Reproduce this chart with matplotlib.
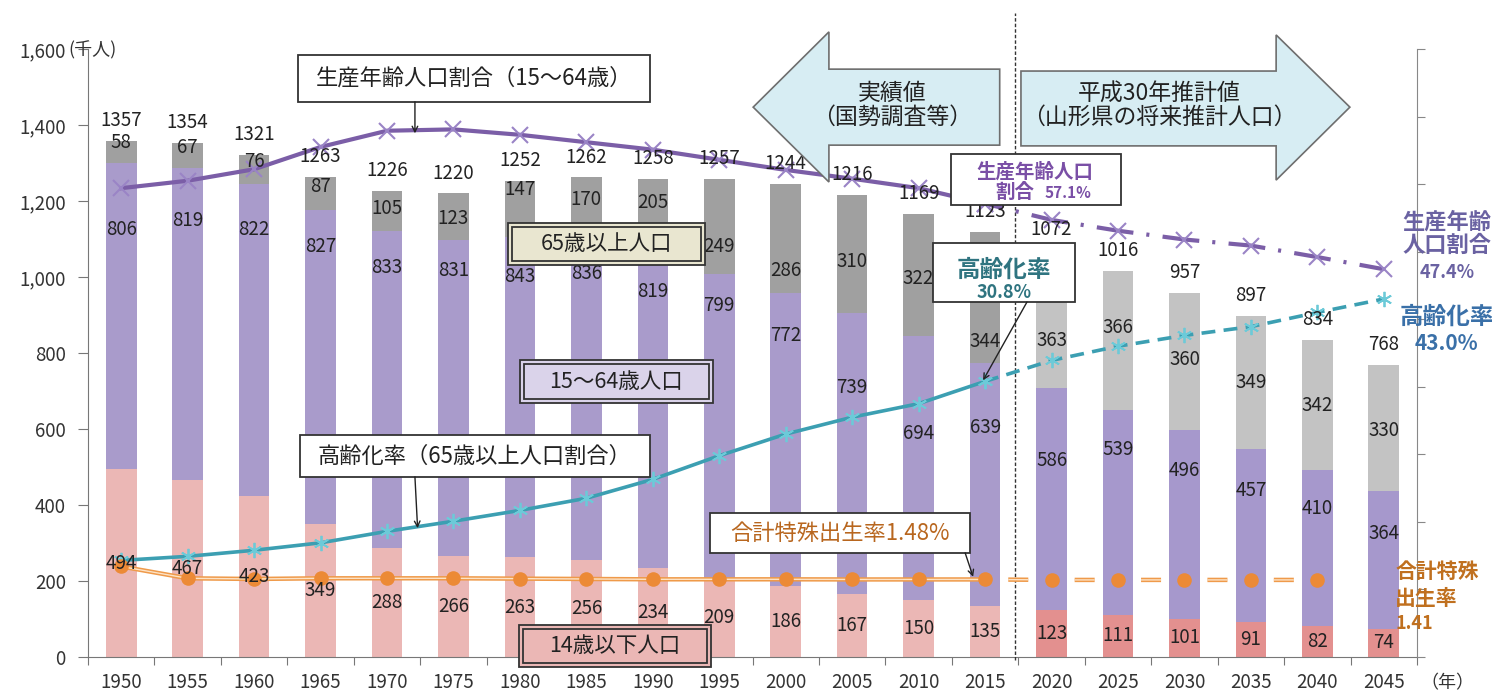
import matplotlib
matplotlib.use("Agg")
import matplotlib.pyplot as plt
from matplotlib.patches import Polygon, Rectangle
import numpy as np

plt.rcParams["font.family"] = ["Noto Sans CJK JP", "DejaVu Sans"]
plt.rcParams["lines.scale_dashes"] = False

# 山形県の人口（千人）: 1950-2015 国勢調査, 2020-2045 推計
years = [1950, 1955, 1960, 1965, 1970, 1975, 1980, 1985, 1990, 1995,
         2000, 2005, 2010, 2015, 2020, 2025, 2030, 2035, 2040, 2045]
pop_0_14 = [494, 467, 423, 349, 288, 266, 263, 256, 234, 209,
            186, 167, 150, 135, 123, 111, 101, 91, 82, 74]
pop_15_64 = [806, 819, 822, 827, 833, 831, 843, 836, 819, 799,
             772, 739, 694, 639, 586, 539, 496, 457, 410, 364]
pop_65 = [58, 67, 76, 87, 105, 123, 147, 170, 205, 249,
          286, 310, 322, 344, 363, 366, 360, 349, 342, 330]
pop_total = [1357, 1354, 1321, 1263, 1226, 1220, 1252, 1262, 1258, 1257,
             1244, 1216, 1169, 1123, 1072, 1016, 957, 897, 834, 768]

# 割合（%）
working_ratio = [59.4, 60.5, 62.2, 65.5, 67.9, 68.1, 67.3, 66.2, 65.1, 63.6,
                 62.1, 60.8, 59.4, 57.1, 54.7, 53.1, 51.8, 50.9, 49.2, 47.4]
aging_ratio = [4.3, 4.9, 5.8, 6.9, 8.6, 10.1, 11.7, 13.5, 16.3, 19.8,
               23.0, 25.5, 27.5, 30.8, 33.9, 36.0, 37.6, 38.9, 41.0, 43.0]
# 合計特殊出生率 (1950-2040)
fertility = [3.4, 1.65, 1.55, 1.65, 1.65, 1.65, 1.6, 1.55, 1.5, 1.5,
             1.5, 1.48, 1.48, 1.48, 1.41, 1.41, 1.41, 1.41, 1.41]

N_ACTUAL = 14  # 2015 までが実績値

# data label heights (千人) for the 15-64 and 65+ segments
mid_label_y = [1124, 1150, 1126, 1079, 1026, 1018, 1000, 1010, 961, 926,
               847, 708, 589, 605, 518, 545, 492, 439, 392, 326]
old_label_y = [1355, 1342, 1303, 1237, 1181, 1155, 1229, 1203, 1195, 1079,
               1018, 1040, 997, 829, 834, 866, 782, 722, 663, 597]

C_YOUNG = ["#ebb7b5"] * N_ACTUAL + ["#e3908f"] * (len(years) - N_ACTUAL)
C_MID = ["#a99bcb"] * N_ACTUAL + ["#a698cc"] * (len(years) - N_ACTUAL)
C_OLD = ["#a0a0a0"] * N_ACTUAL + ["#c3c3c3"] * (len(years) - N_ACTUAL)
C_WORK = "#7b5ea7"
C_AGING = "#3c9fb2"
C_FERT = "#ef9a4a"
TXT = "#222222"

fig = plt.figure(figsize=(14.92, 6.92), dpi=100)
ax = fig.add_axes([88 / 1492, 35 / 692, 1329 / 1492, 608 / 692])
ax2 = ax.twinx()

x = np.arange(len(years))
w = 0.46
young = np.array(pop_0_14)
mid = np.array(pop_15_64)
old = np.array(pop_65)
ax.bar(x, young, w, color=C_YOUNG, zorder=2)
ax.bar(x, mid, w, bottom=young, color=C_MID, zorder=2)
ax.bar(x, old, w, bottom=young + mid, color=C_OLD, zorder=2)

ax.set_xlim(-0.5, len(years) - 0.5)
ax.set_ylim(0, 1600)
ax.set_yticks(range(0, 1601, 200))
ax.set_yticklabels([f"{v:,}" for v in range(0, 1601, 200)], fontsize=13.5, color="#333333")
ax.set_xticks(np.arange(-0.5, len(years), 1))
ax.set_xticklabels([])
ax.set_xticks(x, minor=True)
ax.set_xticklabels([str(y) for y in years], minor=True, fontsize=13.5, color="#333333")
ax.tick_params(axis="x", which="major", length=6, color="#777777")
ax.tick_params(axis="x", which="minor", length=0, pad=11)
ax.tick_params(axis="y", length=7, pad=9, color="#777777")
for side in ["top", "right"]:
    ax.spines[side].set_visible(False)
for side in ["left", "bottom"]:
    ax.spines[side].set_color("#777777")

ax2.set_ylim(-10, 80)
ax2.set_yticks(range(-10, 81, 10))
ax2.set_yticklabels([])
ax2.tick_params(axis="y", length=6, color="#888888")
for side in ["top", "left", "bottom"]:
    ax2.spines[side].set_visible(False)
ax2.spines["right"].set_color("#888888")

# 生産年齢人口割合
ax2.plot(x[:N_ACTUAL], working_ratio[:N_ACTUAL], color=C_WORK, lw=3, marker="x",
         ms=11, mec="#9a84c6", mew=1.5, zorder=3)
ax2.plot(x[N_ACTUAL - 1:], working_ratio[N_ACTUAL - 1:], color=C_WORK, lw=3,
         marker="x", ms=11, mec="#9a84c6", mew=1.5, zorder=3,
         ls=(13.3, (26.6, 9.4, 2.2, 9.6)))

# 高齢化率
star = (6, 2, 0)
ax2.plot(x[:N_ACTUAL], aging_ratio[:N_ACTUAL], color=C_AGING, lw=2.6, marker=star,
         ms=11, mec="#6ccad8", mew=1.3, zorder=3)
ax2.plot(x[N_ACTUAL - 1:], aging_ratio[N_ACTUAL - 1:], color=C_AGING, lw=2.6,
         marker=star, ms=11, mec="#6ccad8", mew=1.3, zorder=3, ls=(0, (10, 6)))

# 合計特殊出生率（二重線）
fx = x[:len(fertility)]
ax2.plot(fx[:N_ACTUAL], fertility[:N_ACTUAL], color=C_FERT, lw=3.2, zorder=3)
ax2.plot(fx[:N_ACTUAL], fertility[:N_ACTUAL], color="#fde3c6", lw=1.0, zorder=3)
fdash = (31.1, (14.4, 33.4))
ax2.plot(fx[N_ACTUAL - 1:], fertility[N_ACTUAL - 1:], color=C_FERT, lw=3.2, zorder=3, ls=fdash)
ax2.plot(fx[N_ACTUAL - 1:], fertility[N_ACTUAL - 1:], color="#fde3c6", lw=1.0, zorder=3, ls=fdash)
ax2.plot(fx, fertility, ls="none", marker="o", ms=10.5, color="#ec8a36", mec="none", zorder=3)

# data labels
for i in x:
    kw = dict(transform=ax.transData, ha="center", va="center", fontsize=13.5,
              color=TXT, zorder=4)
    ax2.text(i, young[i] / 2, str(pop_0_14[i]), **kw)
    ax2.text(i, mid_label_y[i], str(pop_15_64[i]), **kw)
    ax2.text(i, old_label_y[i], str(pop_65[i]), **kw)
    ax2.text(i, young[i] + mid[i] + old[i] + 26, str(pop_total[i]),
             **{**kw, "va": "bottom"})

# 実績値 / 推計値 の境界
ax.axvline(13.45, ymin=-0.005, ymax=1.06, color="#333333", lw=1,
           ls=(0, (2.5, 1.5)), clip_on=False, zorder=5)


def framed(x0, x1, y0, y1, fc="white", double=False):
    ax2.add_patch(Rectangle((x0, y0), x1 - x0, y1 - y0, transform=ax.transData,
                            fc=fc, ec="#333333", lw=1.3, zorder=6, clip_on=False))
    if double:
        dx, dy = 0.06, 10
        ax2.add_patch(Rectangle((x0 + dx, y0 + dy), x1 - x0 - 2 * dx, y1 - y0 - 2 * dy,
                                transform=ax.transData, fc="none", ec="#333333",
                                lw=1.3, zorder=6, clip_on=False))


def note(xp, yp, s, size=15.5, color=TXT, weight="normal", ha="center"):
    ax2.text(xp, yp, s, transform=ax.transData, fontsize=size, color=color,
             fontweight=weight, ha=ha, va="center", zorder=7, clip_on=False)


def pointer(x0, y0, x1, y1):
    ax2.annotate("", xy=(x1, y1), xytext=(x0, y0), xycoords=ax.transData,
                 textcoords=ax.transData, zorder=7,
                 arrowprops=dict(arrowstyle="->", color="#222222", lw=1,
                                 shrinkA=0, shrinkB=0))


# 区分を示す大矢印
left_arrow = [(9.51, 1447), (10.65, 1645), (10.65, 1547), (13.22, 1547),
              (13.22, 1347), (10.65, 1347), (10.65, 1250)]
right_arrow = [(13.54, 1542), (17.38, 1542), (17.38, 1637), (18.49, 1447),
               (17.38, 1255), (17.38, 1345), (13.54, 1345)]
for pts in (left_arrow, right_arrow):
    ax2.add_patch(Polygon(pts, closed=True, transform=ax.transData, fc="#d7edf3",
                          ec="#6e6e6e", lw=1.2, zorder=5, clip_on=False))
note(11.6, 1482, "実績値", size=16.5)
note(11.6, 1420, "（国勢調査等）", size=16.5)
note(15.62, 1482, "平成30年推計値", size=16.5)
note(15.62, 1420, "（山形県の将来推計人口）", size=16.5)

# 系列名
framed(2.66, 7.96, 1461, 1584)
note(5.31, 1524, "生産年齢人口割合（15～64歳）", size=16)
pointer(4.42, 1461, 4.42, 1378)

framed(5.82, 8.79, 1032, 1142, fc="#e9e6d0", double=True)
note(7.30, 1087, "65歳以上人口")

framed(6.0, 8.9, 668, 782, fc="#dad3ea", double=True)
note(7.45, 725, "15～64歳人口")

framed(2.69, 7.96, 474, 584)
note(5.32, 529, "高齢化率（65歳以上人口割合）", size=16)
pointer(4.42, 474, 4.46, 339)

framed(8.86, 12.77, 274, 379)
note(10.82, 326, "合計特殊出生率1.48%", size=16, color="#b8661e")
pointer(12.70, 274, 12.82, 211)

framed(5.99, 8.87, -26, 84, fc="#ebb7b5", double=True)
note(7.43, 29, "14歳以下人口")

framed(12.22, 14.35, 934, 1089)
note(13.28, 1018, "高齢化率", size=17, color="#2f7480", weight="bold")
note(13.28, 960, "30.8%", size=13, color="#2f7480", weight="bold")
pointer(13.63, 934, 12.97, 728)

framed(12.49, 15.05, 1189, 1324)
note(13.75, 1276, "生産年齢人口", size=14, color="#7a4fa6", weight="bold")
note(13.45, 1222, "割合", size=14, color="#7a4fa6", weight="bold")
note(14.25, 1222, "57.1%", size=11, color="#7a4fa6", weight="bold")

# 右端の2045年値
note(19.95, 1145, "生産年齢", size=16, color="#6a62a2", weight="bold")
note(19.95, 1084, "人口割合", size=16, color="#6a62a2", weight="bold")
note(19.95, 1013, "47.4%", size=13, color="#6a62a2", weight="bold")
note(19.95, 895, "高齢化率", size=17, color="#3a70a8", weight="bold")
note(19.95, 826, "43.0%", size=15, color="#3a70a8", weight="bold")
note(19.17, 224, "合計特殊", size=15, color="#c0701f", weight="bold", ha="left")
note(19.17, 155, "出生率", size=15, color="#c0701f", weight="bold", ha="left")
note(19.17, 89, "1.41", size=13, color="#c0701f", weight="bold", ha="left")

fig.text(68 / 1492, 1 - 50 / 692, "(千人)", fontsize=13, color="#333333", va="center")
fig.text(1420 / 1492, 1 - 683 / 692, "（年）", fontsize=13, color="#333333", va="center")

fig.savefig("out.png", dpi=100)
